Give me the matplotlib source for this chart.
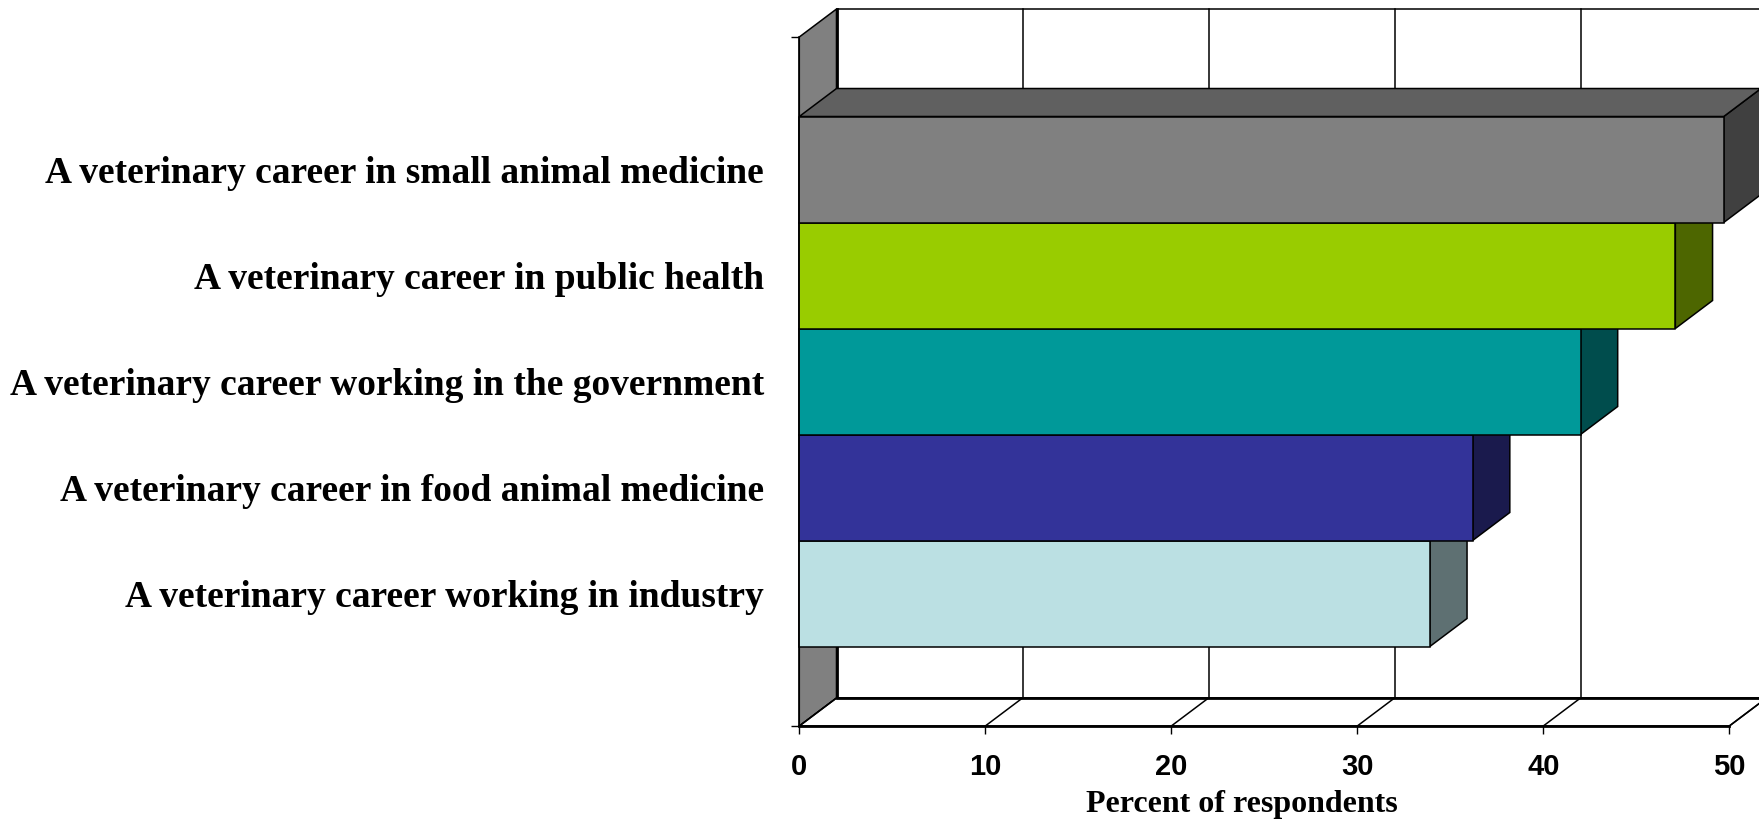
import matplotlib.pyplot as plt
from matplotlib.patches import Polygon

# data, bottom bar first
labels = [
    "A veterinary career working in industry",
    "A veterinary career in food animal medicine",
    "A veterinary career working in the government",
    "A veterinary career in public health",
    "A veterinary career in small animal medicine",
]
values = [33.9, 36.2, 42.0, 47.1, 49.7]
face_colors = ["#BBE0E3", "#333399", "#009999", "#99CC00", "#808080"]
side_colors = ["#5E7072", "#1A1A4D", "#004D4D", "#4D6600", "#404040"]
top_colors = ["#8CA8AA", "#262673", "#007373", "#739900", "#606060"]
xticks = [0, 10, 20, 30, 40, 50]

DX, DY = 2.0, 0.264      # depth offset in data units
XMAX, HMAX = 50, 6.5     # front plot area
GAP = 0.75               # gap under first bar (150% gap width)
lw = 1.1

W, H = 1759, 820
fig = plt.figure(figsize=(W / 100, H / 100), dpi=100)
ax = fig.add_axes([799.3 / W, 93 / H, 52.2 * 18.6 / W, 6.8 * 106 / H])
ax.set_xlim(0, 52.2)
ax.set_ylim(0, 6.8)

def poly(pts, fc, z, lw_=lw):
    ax.add_patch(Polygon(pts, closed=True, facecolor=fc, edgecolor="black",
                         linewidth=lw_, zorder=z, clip_on=False))

# left wall
poly([(0, 0), (DX, DY), (DX, HMAX + DY), (0, HMAX)], "#808080", 1)
# back wall
poly([(DX, DY), (XMAX + DX, DY), (XMAX + DX, HMAX + DY), (DX, HMAX + DY)], "white", 1)
ax.plot([DX, DX], [DY, HMAX + DY], color="black", lw=2.0, zorder=1.2, clip_on=False)
for t in xticks[1:-1]:
    ax.plot([t + DX, t + DX], [DY, HMAX + DY], color="black", lw=lw, zorder=1.1, clip_on=False)
# floor
poly([(0, 0), (XMAX, 0), (XMAX + DX, DY), (DX, DY)], "white", 1.3)
ax.plot([DX, XMAX + DX], [DY, DY], color="black", lw=2.0, zorder=1.4, clip_on=False)
for t in xticks:
    ax.plot([t, t + DX], [0, DY], color="black", lw=lw, zorder=1.4, clip_on=False)

# bars, bottom to top so upper bars hide lower tops
for i, v in enumerate(values):
    y0 = GAP + i
    y1 = y0 + 1
    z = 2 + i
    poly([(v, y0), (v + DX, y0 + DY), (v + DX, y1 + DY), (v, y1)], side_colors[i], z)
    poly([(0, y1), (DX, y1 + DY), (v + DX, y1 + DY), (v, y1)], top_colors[i], z)
    poly([(0, y0), (v, y0), (v, y1), (0, y1)], face_colors[i], z + 0.5)
    ax.text(-1.9, y0 + 0.47, labels[i], ha="right", va="center", fontsize=27,
            family="Liberation Serif", fontweight="bold")

# axes
for s in ["top", "right"]:
    ax.spines[s].set_visible(False)
ax.spines["bottom"].set_bounds(0, XMAX)
ax.spines["left"].set_bounds(0, HMAX)
ax.spines["bottom"].set_zorder(10)
ax.spines["left"].set_zorder(10)
ax.spines["bottom"].set_linewidth(2.0)
ax.spines["left"].set_linewidth(lw)
ax.set_xticks(xticks)
ax.set_xticklabels([str(t) for t in xticks], fontsize=21, fontweight="bold",
                   family="Liberation Sans")
ax.set_yticks([0, HMAX])
ax.set_yticklabels([])
ax.tick_params(axis="both", length=6, width=1.0, color="black")
ax.tick_params(axis="x", pad=13)
ax.set_xlabel("Percent of respondents", fontsize=23, fontweight="bold",
              family="Liberation Serif", va="center")
ax.xaxis.set_label_coords(23.8 / 52.2, -0.107)
ax.patch.set_visible(False)

fig.savefig("out.png", dpi=100)
